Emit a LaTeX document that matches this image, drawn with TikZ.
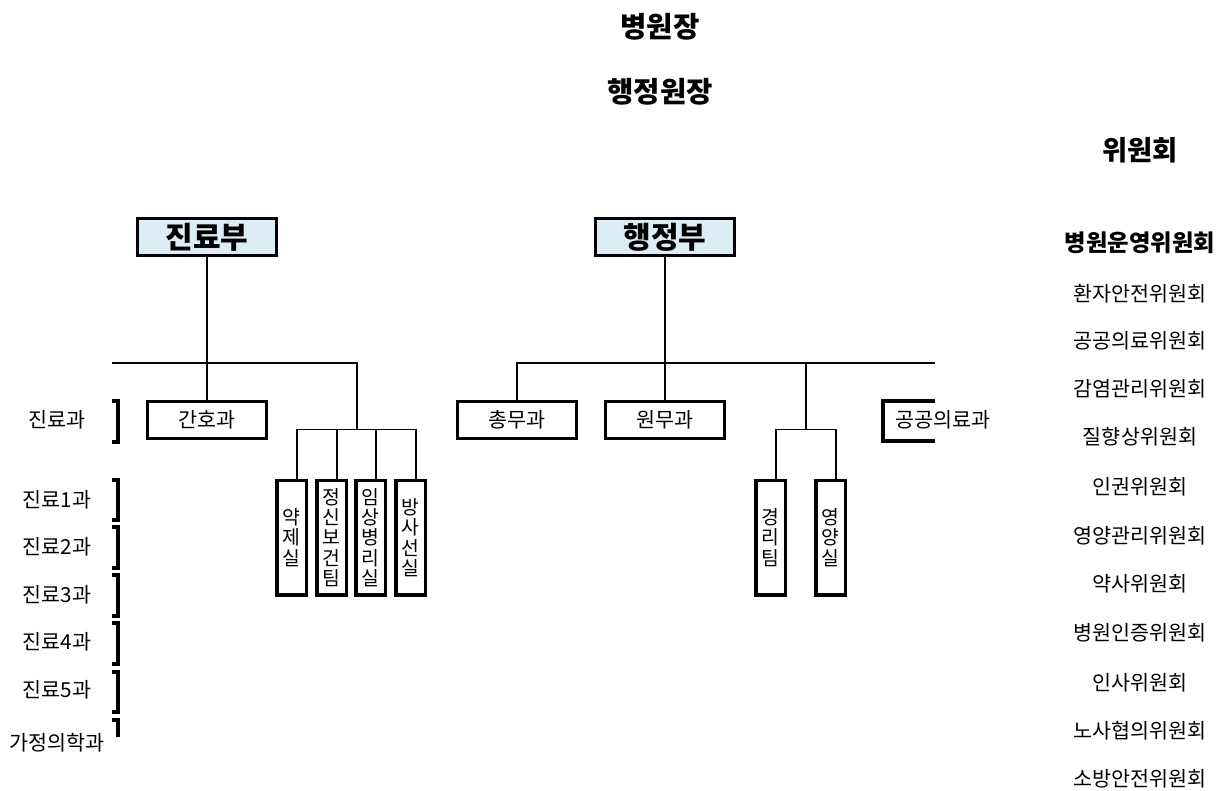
\documentclass[tikz,border=0pt]{standalone}
\usepackage{fontspec}
\setmainfont{Noto Sans CJK KR}
\usetikzlibrary{positioning,calc}
\definecolor{headfill}{HTML}{DAEEF3}

\begin{document}
\begin{tikzpicture}[x=0.75pt, y=-0.75pt,
  every node/.style={font=\fontsize{15.5}{18}\selectfont, inner sep=0pt},
  title/.style={font=\fontsize{21.5}{24}\selectfont\bfseries},
  dept/.style={rectangle, draw, line width=2.6pt, fill=headfill, minimum width=104pt, minimum height=28pt, font=\fontsize{22.5}{26}\selectfont\bfseries},
  office/.style={rectangle, draw, line width=2.5pt, minimum width=89pt, minimum height=28pt},
  unit/.style={rectangle, draw, line width=2.5pt, minimum width=22pt, minimum height=86pt, align=center, font=\fontsize{14.5}{15.3}\selectfont},
  link/.style={line width=1.4pt},
  cut/.style={line width=2.6pt}]
\useasboundingbox (0,0) rectangle (1230,791);
% top
\node[title] (director) at (660,27) {병원장};
\node[title] (admdir) at (660,92) {행정원장};
\node[title,font=\fontsize{20.5}{24}\selectfont\bfseries] (cmtehead) at (1140,150) {위원회};
% departments
\node[dept] (med) at (207,237) {진료부};
\node[dept] (adm) at (665,237) {행정부};
\node[office] (nurse) at (207,420) {간호과};
\node[office] (general) at (517,420) {총무과};
\node[office] (patient) at (665,420) {원무과};
\node (public) at (943,420) {공공의료과};
\node[unit] (pharmacy) at (291.5,537.5) {약\\제\\실};
\node[unit] (mental) at (331.5,537.5) {정\\신\\보\\건\\팀};
\node[unit] (lab) at (370.5,537.5) {임\\상\\병\\리\\실};
\node[unit] (radio) at (410.5,537.5) {방\\사\\선\\실};
\node[unit] (account) at (770.5,537.5) {경\\리\\팀};
\node[unit] (food) at (830.5,537.5) {영\\양\\실};
% medical side
\coordinate (medleft) at (112,363);
\coordinate (medsplit) at (357,430);
\draw[link] (med.south) -- (nurse.north);
\draw[link] (medleft) -| (medsplit);
\draw[link] ([xshift=4pt]pharmacy.north) -- ++(0,-49) -| ([xshift=4pt]radio.north);
\foreach \u in {mental,lab}
  \draw[link] ([xshift=4pt]\u.north) -- ++(0,-49);
% admin side
\coordinate (admright) at (935,363);
\coordinate (admsplit) at (806,363);
\draw[link] (adm.south) -- (patient.north);
\draw[link] (general.north) |- (admright);
\draw[link] (admsplit) -- ++(0,67);
\draw[link] ([xshift=4pt]account.north) -- ++(0,-49) -| ([xshift=4pt]food.north);
\draw[cut] (935,401) -| (883,441) -- (935,441);
% clinics
\node (medsec) at (57,420) {진료과};
\foreach \y/\k in {500/1,547/2,595/3,642/4,690/5}
  \node (med\k) at (57,\y) {진료\k{}과};
\node (family) at (57,743) {가정의학과};
\foreach \t/\b in {401/442,480/520,527/568,575/616,623/664,672/712}
  \draw[cut] (112,\t) -| (118,\b) -- (112,\b);
\draw[cut] (112,720) -| (118,737);
% committees
\node[font=\fontsize{17.5}{20}\selectfont\bfseries] (cmte0) at (1140,243) {병원운영위원회};
\foreach \y/\t [count=\i] in {294/환자안전위원회,341/공공의료위원회,389/감염관리위원회,437/질향상위원회,487/인권위원회,536/영양관리위원회,584/약사위원회,633/병원인증위원회,683/인사위원회,731/노사협의위원회,779/소방안전위원회}
  \node (cmte\i) at (1140,\y) {\t};
\end{tikzpicture}
\end{document}
